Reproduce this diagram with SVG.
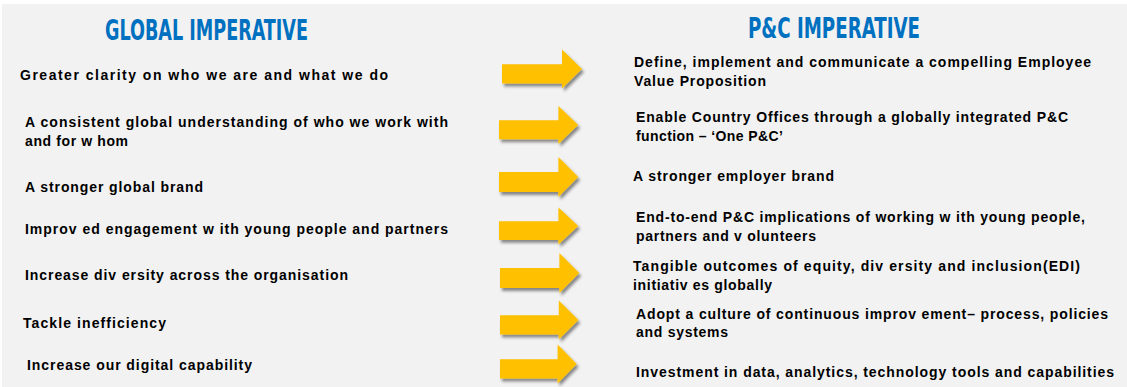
<svg xmlns="http://www.w3.org/2000/svg" width="1127" height="387" viewBox="0 0 1127 387">
  <defs>
    <style>
      .bg { fill: #f2f2f2; }
      .head { font-family: "DejaVu Sans Condensed", "DejaVu Sans", sans-serif; font-weight: bold; font-size: 28px; fill: #0070c0; }
      .txt { font-family: "Liberation Sans", Arial, sans-serif; font-weight: bold; font-size: 14px; fill: #000000; }
      .arrow { fill: #ffc000; filter: url(#shadow); }
    </style>
    <filter id="shadow" x="-20%" y="-30%" width="150%" height="180%">
      <feDropShadow dx="2" dy="3" stdDeviation="1.5" flood-color="#000000" flood-opacity="0.45"/>
    </filter>
    <!-- block arrow: shaft 60 wide, head 20 long -->
    <path id="blockArrow" d="M0,-5 L60,-5 L60,-20 L80,0 L60,20 L60,15 L0,15 Z"/>
  </defs>

  <rect class="bg" x="2" y="4" width="1125" height="383"/>

  <!-- column headings -->
  <g id="heading-global">
    <text class="head" x="105" y="40" textLength="203" lengthAdjust="spacingAndGlyphs">GLOBAL IMPERATIVE</text>
  </g>
  <g id="heading-pc">
    <text class="head" x="748" y="38" textLength="172" lengthAdjust="spacingAndGlyphs">P&amp;C IMPERATIVE</text>
  </g>

  <!-- global imperatives -->
  <g id="global-1"><text class="txt" x="20" y="80" textLength="368" lengthAdjust="spacing">Greater clarity on who we are and what we do</text></g>
  <g id="global-2">
    <text class="txt" x="25" y="127" textLength="423" lengthAdjust="spacing">A consistent global understanding of who we work with</text>
    <text class="txt" x="25" y="146" textLength="103" lengthAdjust="spacing">and for w hom</text>
  </g>
  <g id="global-3"><text class="txt" x="25" y="192" textLength="178" lengthAdjust="spacing">A stronger global brand</text></g>
  <g id="global-4"><text class="txt" x="25" y="234" textLength="423" lengthAdjust="spacing">Improv ed engagement w ith young people and partners</text></g>
  <g id="global-5"><text class="txt" x="25" y="280" textLength="323" lengthAdjust="spacing">Increase div ersity across the organisation</text></g>
  <g id="global-6"><text class="txt" x="23" y="328" textLength="143" lengthAdjust="spacing">Tackle inefficiency</text></g>
  <g id="global-7"><text class="txt" x="27" y="370" textLength="225" lengthAdjust="spacing">Increase our digital capability</text></g>

  <!-- arrows linking each global imperative to its P&C imperative -->
  <g id="connectors">
    <use href="#blockArrow" class="arrow" transform="translate(502,69) scale(1,0.97)"/>
    <use href="#blockArrow" class="arrow" transform="translate(499,125) scale(0.99,0.95)"/>
    <use href="#blockArrow" class="arrow" transform="translate(499,177) scale(0.99,1)"/>
    <use href="#blockArrow" class="arrow" transform="translate(499,226) scale(0.99,0.93)"/>
    <use href="#blockArrow" class="arrow" transform="translate(500,273) scale(0.99,1)"/>
    <use href="#blockArrow" class="arrow" transform="translate(500,320) scale(0.98,0.97)"/>
    <use href="#blockArrow" class="arrow" transform="translate(500,364) scale(0.96,0.97)"/>
  </g>

  <!-- P&C imperatives -->
  <g id="pc-1">
    <text class="txt" x="634" y="67" textLength="457" lengthAdjust="spacing">Define, implement and communicate a compelling Employee</text>
    <text class="txt" x="634" y="86" textLength="132" lengthAdjust="spacing">Value Proposition</text>
  </g>
  <g id="pc-2">
    <text class="txt" x="636" y="122" textLength="432" lengthAdjust="spacing">Enable Country Offices through a globally integrated P&amp;C</text>
    <text class="txt" x="636" y="141" textLength="147" lengthAdjust="spacing">function – ‘One P&amp;C’</text>
  </g>
  <g id="pc-3"><text class="txt" x="633" y="181" textLength="201" lengthAdjust="spacing">A stronger employer brand</text></g>
  <g id="pc-4">
    <text class="txt" x="636" y="222" textLength="449" lengthAdjust="spacing">End-to-end P&amp;C implications of working w ith young people,</text>
    <text class="txt" x="636" y="241" textLength="180" lengthAdjust="spacing">partners and v olunteers</text>
  </g>
  <g id="pc-5">
    <text class="txt" x="633" y="271" textLength="447" lengthAdjust="spacing">Tangible outcomes of equity, div ersity and inclusion(EDI)</text>
    <text class="txt" x="633" y="290" textLength="139" lengthAdjust="spacing">initiativ es globally</text>
  </g>
  <g id="pc-6">
    <text class="txt" x="636" y="319" textLength="472" lengthAdjust="spacing">Adopt a culture of continuous improv ement– process, policies</text>
    <text class="txt" x="636" y="337" textLength="92" lengthAdjust="spacing">and systems</text>
  </g>
  <g id="pc-7"><text class="txt" x="636" y="377" textLength="478" lengthAdjust="spacing">Investment in data, analytics, technology tools and capabilities</text></g>
</svg>
